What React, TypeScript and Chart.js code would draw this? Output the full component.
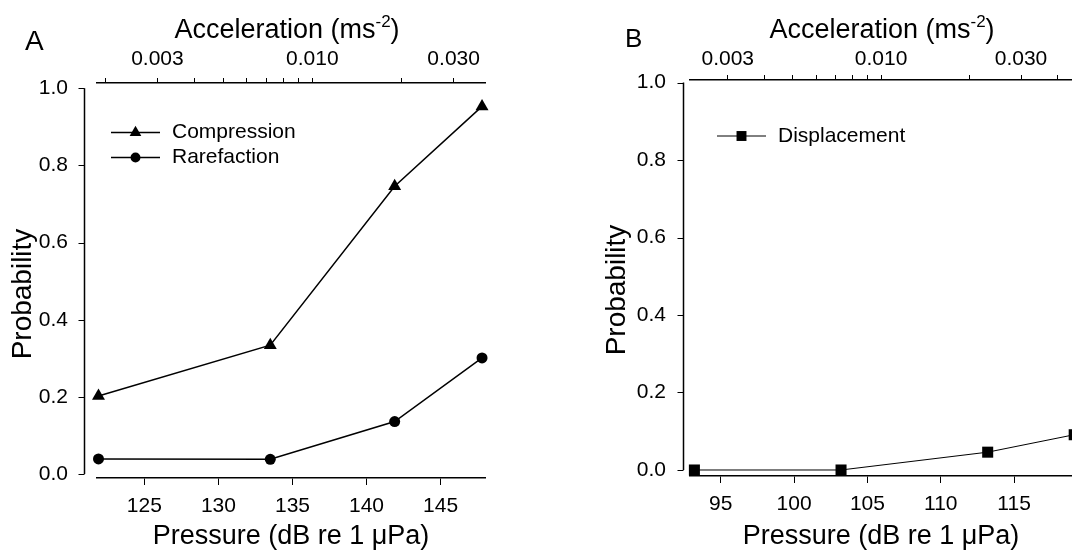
import React, { useEffect, useRef } from "react";
import { Chart, registerables } from "chart.js";

Chart.register(...registerables);

// ---------- Data ----------
// Panel A
const A_PRESSURE = [121.9, 133.5, 141.9, 147.8];
const A_COMPRESSION = [0.202, 0.334, 0.746, 0.953];
const A_RAREFACTION = [0.039, 0.038, 0.136, 0.301];
// Panel B
const B_PRESSURE = [93.2, 103.2, 113.2, 119.1];
const B_DISPLACEMENT = [0.0, 0.0, 0.046, 0.091];

// Tick values
const A_PRESSURE_TICKS = [125, 130, 135, 140, 145];
const B_PRESSURE_TICKS = [95, 100, 105, 110, 115];
const PROB_TICKS = [0, 0.2, 0.4, 0.6, 0.8, 1.0];
const A_ACC_TICKS = [0.002, 0.003, 0.004, 0.005, 0.006, 0.007, 0.008, 0.009, 0.01, 0.02, 0.03];
const B_ACC_TICKS = [0.003, 0.004, 0.005, 0.006, 0.007, 0.008, 0.009, 0.01, 0.02, 0.03, 0.04];
const ACC_LABELED = [0.003, 0.01, 0.03];

// Pressure (dB) at which acceleration equals 0.010 m/s^2 for each panel
const A_DB_AT_ACC_REF = 136.34;
const B_DB_AT_ACC_REF = 105.93;
const ACC_REF = 0.01;

const X_TITLE = "Pressure (dB re 1 \u03bcPa)";
const Y_TITLE = "Probability";
const TOP_TITLE_MAIN = "Acceleration (ms";
const TOP_TITLE_SUP = "-2";
const TOP_TITLE_TAIL = ")";

const FONT = "'Liberation Sans', Arial, sans-serif";
const TICK_SIZE = 21;
const TITLE_SIZE = 27;
const YTITLE_SIZE = 28;
const LEGEND_SIZE = 21;
const W = 536;
const H = 555;

type PanelCfg = {
  letter: string;
  letterX: number;
  letterBaseline: number;
  letterSize: number;
  area: { left: number; right: number; top: number; bottom: number };
  xMin: number;
  xMax: number;
  yMin: number;
  yMax: number;
  dbRef: number;
  pressureTicks: number[];
  accTicks: number[];
  yLineGap: number;
  yLabelPad: number;
  bottomPad: number;
  topPad: number;
  topTitleX: number;
  yTitleX: number;
  yTitleY: number;
  datasets: any[];
  legend: { x1: number; x2: number; textX: number; ys: number[] };
  lineW: number;
};

function accFromDb(db: number, ref: number) {
  return ACC_REF * Math.pow(10, (db - ref) / 20);
}

function drawMarker(ctx: CanvasRenderingContext2D, style: string, x: number, y: number, r: number) {
  ctx.beginPath();
  if (style === "triangle") {
    ctx.moveTo(x, y - r);
    ctx.lineTo(x + r * Math.cos(Math.PI / 6), y + r / 2);
    ctx.lineTo(x - r * Math.cos(Math.PI / 6), y + r / 2);
    ctx.closePath();
  } else if (style === "rect") {
    const s = r * Math.SQRT1_2;
    ctx.rect(x - s, y - s, 2 * s, 2 * s);
  } else {
    ctx.arc(x, y, r, 0, Math.PI * 2);
  }
  ctx.fill();
}

function makeConfig(p: PanelCfg): any {
  const decor = {
    id: "decor" + p.letter,
    afterDraw(chart: any) {
      const ctx: CanvasRenderingContext2D = chart.ctx;
      const area = chart.chartArea;
      const ys = chart.scales.y;
      ctx.save();
      ctx.fillStyle = "#000";
      ctx.strokeStyle = "#000";
      // offset y axis line + ticks
      const lx = area.left - p.yLineGap;
      ctx.lineWidth = 1.5;
      ctx.beginPath();
      ctx.moveTo(lx, ys.getPixelForValue(PROB_TICKS[0]));
      ctx.lineTo(lx, ys.getPixelForValue(PROB_TICKS[PROB_TICKS.length - 1]));
      ctx.stroke();
      ctx.lineWidth = 1;
      PROB_TICKS.forEach((v) => {
        const py = Math.round(ys.getPixelForValue(v)) + 0.5;
        ctx.beginPath();
        ctx.moveTo(lx - 6, py);
        ctx.lineTo(lx, py);
        ctx.stroke();
      });
      // top title with superscript
      ctx.textAlign = "left";
      ctx.textBaseline = "alphabetic";
      ctx.font = `${TITLE_SIZE}px ${FONT}`;
      const w1 = ctx.measureText(TOP_TITLE_MAIN).width;
      const w3 = ctx.measureText(TOP_TITLE_TAIL).width;
      ctx.font = `17px ${FONT}`;
      const w2 = ctx.measureText(TOP_TITLE_SUP).width;
      let tx = p.topTitleX - (w1 + w2 + w3) / 2;
      const tb = 38;
      ctx.font = `${TITLE_SIZE}px ${FONT}`;
      ctx.fillText(TOP_TITLE_MAIN, tx, tb);
      tx += w1;
      ctx.font = `17px ${FONT}`;
      ctx.fillText(TOP_TITLE_SUP, tx, tb - 11);
      tx += w2;
      ctx.font = `${TITLE_SIZE}px ${FONT}`;
      ctx.fillText(TOP_TITLE_TAIL, tx, tb);
      // y title
      ctx.save();
      ctx.translate(p.yTitleX, p.yTitleY);
      ctx.rotate(-Math.PI / 2);
      ctx.textAlign = "center";
      ctx.textBaseline = "middle";
      ctx.font = `${YTITLE_SIZE}px ${FONT}`;
      ctx.fillText(Y_TITLE, 0, 0);
      ctx.restore();
      // panel letter
      ctx.textAlign = "left";
      ctx.textBaseline = "alphabetic";
      ctx.font = `${p.letterSize}px ${FONT}`;
      ctx.fillText(p.letter, p.letterX, p.letterBaseline);
      // legend
      chart.data.datasets.forEach((ds: any, i: number) => {
        const y = p.legend.ys[i];
        ctx.lineWidth = p.lineW;
        ctx.beginPath();
        ctx.moveTo(p.legend.x1, y);
        ctx.lineTo(p.legend.x2, y);
        ctx.stroke();
        drawMarker(ctx, ds.pointStyle, (p.legend.x1 + p.legend.x2) / 2, y, ds.pointRadius * 0.9);
        ctx.font = `${LEGEND_SIZE}px ${FONT}`;
        ctx.textBaseline = "middle";
        ctx.fillText(ds.label, p.legend.textX, y);
      });
      ctx.restore();
    },
  };

  return {
    type: "line",
    data: { datasets: p.datasets },
    plugins: [decor],
    options: {
      responsive: false,
      animation: false,
      devicePixelRatio: 1,
      events: [],
      layout: { autoPadding: false, padding: { left: 0, right: W - p.area.right, top: 0, bottom: 0 } },
      plugins: { legend: { display: false }, tooltip: { enabled: false } },
      scales: {
        x: {
          type: "linear",
          position: "bottom",
          min: p.xMin,
          max: p.xMax,
          afterBuildTicks: (s: any) => {
            s.ticks = p.pressureTicks.map((v) => ({ value: v }));
          },
          afterFit: (s: any) => {
            s.height = H - p.area.bottom;
          },
          grid: { display: true, drawOnChartArea: false, drawTicks: true, tickLength: 7, color: "#000", lineWidth: 1 },
          border: { display: true, color: "#000", width: 1.5 },
          ticks: {
            color: "#000",
            font: { family: FONT, size: TICK_SIZE },
            padding: p.bottomPad,
            maxRotation: 0,
            autoSkip: false,
            callback: (v: any) => String(v),
          },
          title: {
            display: true,
            text: X_TITLE,
            color: "#000",
            font: { family: FONT, size: TITLE_SIZE },
            padding: { top: 0, bottom: 2 },
          },
        },
        x2: {
          type: "logarithmic",
          position: "top",
          min: accFromDb(p.xMin, p.dbRef),
          max: accFromDb(p.xMax, p.dbRef),
          afterBuildTicks: (s: any) => {
            s.ticks = p.accTicks.map((v) => ({ value: v }));
          },
          afterFit: (s: any) => {
            s.height = p.area.top;
          },
          grid: { display: true, drawOnChartArea: false, drawTicks: true, tickLength: 5, color: "#000", lineWidth: 1 },
          border: { display: true, color: "#000", width: 1.5 },
          ticks: {
            color: "#000",
            font: { family: FONT, size: TICK_SIZE },
            padding: p.topPad,
            maxRotation: 0,
            autoSkip: false,
            callback: (v: any) =>
              ACC_LABELED.some((l) => Math.abs(l - Number(v)) < 1e-9) ? Number(v).toFixed(3) : "",
          },
        },
        y: {
          type: "linear",
          position: "left",
          min: p.yMin,
          max: p.yMax,
          afterBuildTicks: (s: any) => {
            s.ticks = PROB_TICKS.map((v) => ({ value: v }));
          },
          afterFit: (s: any) => {
            s.width = p.area.left;
          },
          grid: { display: false, drawTicks: false },
          border: { display: false },
          ticks: {
            color: "#000",
            font: { family: FONT, size: TICK_SIZE },
            padding: p.yLabelPad,
            autoSkip: false,
            callback: (v: any) => Number(v).toFixed(1),
          },
        },
      },
    },
  };
}

const panelA: PanelCfg = {
  letter: "A",
  letterX: 25,
  letterBaseline: 50,
  letterSize: 28,
  area: { left: 97, right: 485, top: 83, bottom: 478 },
  xMin: 121.8,
  xMax: 148.0,
  yMin: -0.0104,
  yMax: 1.0137,
  dbRef: A_DB_AT_ACC_REF,
  pressureTicks: A_PRESSURE_TICKS,
  accTicks: A_ACC_TICKS,
  yLineGap: 12.5,
  yLabelPad: 29,
  bottomPad: 9,
  topPad: 6,
  topTitleX: 287,
  yTitleX: 23,
  yTitleY: 294,
  lineW: 1.5,
  legend: { x1: 111, x2: 160, textX: 172, ys: [132.5, 157.5] },
  datasets: [
    {
      label: "Compression",
      data: A_PRESSURE.map((x, i) => ({ x, y: A_COMPRESSION[i] })),
      borderColor: "#000",
      backgroundColor: "#000",
      pointBackgroundColor: "#000",
      pointBorderColor: "#000",
      borderWidth: 1.5,
      pointStyle: "triangle",
      pointRadius: 7.5,
      pointBorderWidth: 0,
      clip: false,
    },
    {
      label: "Rarefaction",
      data: A_PRESSURE.map((x, i) => ({ x, y: A_RAREFACTION[i] })),
      borderColor: "#000",
      backgroundColor: "#000",
      pointBackgroundColor: "#000",
      pointBorderColor: "#000",
      borderWidth: 1.5,
      pointStyle: "circle",
      pointRadius: 5.5,
      pointBorderWidth: 0,
      clip: false,
    },
  ],
};

const panelB: PanelCfg = {
  letter: "B",
  letterX: 625 - W,
  letterBaseline: 47,
  letterSize: 26,
  area: { left: 690 - W, right: W, top: 80, bottom: 476 },
  xMin: 92.9,
  xMax: 118.95,
  yMin: -0.0155,
  yMax: 1.0065,
  dbRef: B_DB_AT_ACC_REF,
  pressureTicks: B_PRESSURE_TICKS,
  accTicks: B_ACC_TICKS,
  yLineGap: 6.5,
  yLabelPad: 24,
  bottomPad: 9,
  topPad: 3,
  topTitleX: 882 - W,
  yTitleX: 617 - W,
  yTitleY: 290,
  lineW: 1,
  legend: { x1: 717 - W, x2: 766 - W, textX: 778 - W, ys: [136] },
  datasets: [
    {
      label: "Displacement",
      data: B_PRESSURE.map((x, i) => ({ x, y: B_DISPLACEMENT[i] })),
      borderColor: "#000",
      backgroundColor: "#000",
      pointBackgroundColor: "#000",
      pointBorderColor: "#000",
      borderWidth: 1,
      pointStyle: "rect",
      pointRadius: 7.8,
      pointBorderWidth: 0,
      clip: false,
    },
  ],
};

function Panel({ cfg, left }: { cfg: PanelCfg; left: number }) {
  const ref = useRef<HTMLCanvasElement | null>(null);
  useEffect(() => {
    if (!ref.current) return;
    const chart = new Chart(ref.current, makeConfig(cfg));
    return () => chart.destroy();
  }, [cfg]);
  return (
    <canvas
      ref={ref}
      width={W}
      height={H}
      style={{ position: "absolute", left, top: 0, width: W, height: H, display: "block" }}
    />
  );
}

export default function App() {
  return (
    <div
      style={{
        position: "absolute",
        left: 0,
        top: 0,
        width: 1072,
        height: 555,
        background: "#fff",
        overflow: "hidden",
      }}
    >
      <Panel cfg={panelA} left={0} />
      <Panel cfg={panelB} left={W} />
    </div>
  );
}
